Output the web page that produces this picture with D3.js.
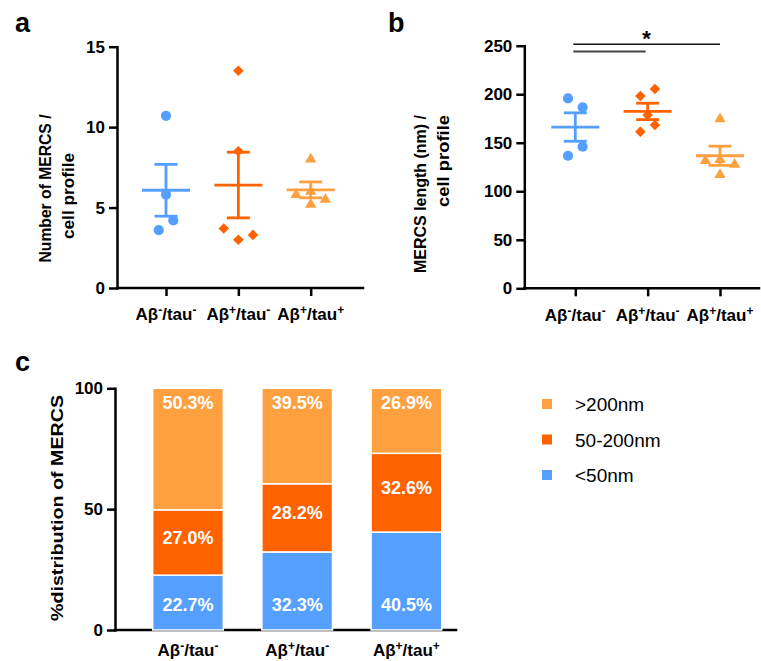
<!DOCTYPE html>
<html>
<head>
<meta charset="utf-8">
<script src="https://cdnjs.cloudflare.com/ajax/libs/d3/7.8.5/d3.min.js"></script>
<style>
body { margin: 0; background: #fff; }
svg { display: block; font-family: "Liberation Sans", Arial, sans-serif; }
</style>
</head>
<body>
<svg id="fig" width="761" height="661"></svg>
<script>
/* groups and values */
var groups = ["Aβ-/tau-", "Aβ+/tau-", "Aβ+/tau+"];

// a: number of MERCS / cell profile
var countNegNeg = [10.7, 5.8, 4.2, 3.6];
var countPosNeg = [13.5, 8.5, 3.7, 3.0, 3.3];
var countPosPos = [8.0, 6.0, 5.8, 5.5, 5.2];
var countTicks = [0, 5, 10, 15];

// b: MERCS length (nm) / cell profile
var lengthNegNeg = [195.7, 186.5, 145.9, 136.6];
var lengthPosNeg = [198.1, 205.3, 178.5, 168.2, 161.3];
var lengthPosPos = [174.5, 131.5, 132.5, 127.5, 117.0];
var lengthTicks = [0, 50, 100, 150, 200, 250];

// c: % distribution of MERCS
var sizeClasses = ["<50nm", "50-200nm", ">200nm"];
var pctBelow50 = [22.7, 32.3, 40.5];
var pct50to200 = [27.0, 28.2, 32.6];
var pctAbove200 = [50.3, 39.5, 26.9];
var pctTicks = [0, 50, 100];

/* styling */
var groupColors = ["#55a0ff", "#ff6200", "#ffa040"];
var groupSymbols = [d3.symbolCircle, d3.symbolSquare, d3.symbolTriangle];
var symbolSizes = [82, 56, 56];
var classColors = ["#55a0ff", "#ff6200", "#ffa040"];
// spread of overlapping dots, in marker half widths
var countSpread = [[0, 0, 1, -1], [0, 0, -2, 0, 2], [0, 0, -2, 2, 0]];
var lengthSpread = [[-1, 1, 1, -1], [-1, 1, 0, 1, -1], [0, -2, 0, 2, 0]];

var svg = d3.select("#fig");
var AXW = 2.5;

function groupLabel(sel, label){
  // superscript the + and - signs
  var parts = label.split(/([+-])/);
  var up = false;
  parts.forEach(function(p, i){
    if (p === "") return;
    var t = sel.append("tspan").text(p);
    if (i % 2 == 1){
      t.attr("font-size", 12).attr("dy", -6);
      up = true;
    } else if (up){
      t.attr("dy", 6);
      up = false;
    }
  });
}

function styleAxis(g){
  g.attr("font-family", null).attr("font-size", 17).attr("font-weight", "bold");
  g.selectAll("line").attr("stroke", "#000").attr("stroke-width", AXW);
  g.selectAll("path").attr("stroke", "#000").attr("stroke-width", AXW)
    .attr("stroke-linecap", "square");
  g.selectAll("text").attr("fill", "#000");
}

function rotTitle(x, y, anchor, txt, len){
  svg.append("text")
    .attr("transform", "translate(" + x + "," + y + ") rotate(-90)")
    .attr("text-anchor", anchor)
    .attr("font-size", 16.5).attr("font-weight", "bold")
    .attr("textLength", len).attr("lengthAdjust", "spacingAndGlyphs")
    .text(txt);
}

function panelLetter(x, y, l){
  svg.append("text").attr("x", x).attr("y", y)
    .attr("font-size", 27).attr("font-weight", "bold").text(l);
}

function dotPanel(values, spread, ticks, box){
  var y = d3.scaleLinear().domain([0, d3.max(ticks)]).range([box.y0, box.y1]);
  var x = d3.scalePoint().domain(groups).range([box.x0, box.x1]);
  var g = svg.append("g");

  g.append("g").attr("transform", "translate(" + box.axisX + ",0)")
    .call(d3.axisLeft(y).tickValues(ticks).tickSize(8).tickPadding(4).tickSizeOuter(0))
    .call(styleAxis);

  var xa = g.append("g").attr("transform", "translate(0," + box.y0 + ")")
    .call(d3.axisBottom(x).tickSize(8).tickFormat(""))
    .call(styleAxis);
  xa.select(".domain").remove();
  g.append("line")
    .attr("x1", box.axisX).attr("x2", box.axisEnd)
    .attr("y1", box.y0).attr("y2", box.y0)
    .attr("stroke", "#000").attr("stroke-width", AXW).attr("stroke-linecap", "square");

  groups.forEach(function(grp, i){
    var t = g.append("text").attr("x", x(grp)).attr("y", box.labelY)
      .attr("text-anchor", "middle").attr("font-size", 17).attr("font-weight", "bold");
    groupLabel(t, grp);
  });

  values.forEach(function(vals, i){
    var cx = x(groups[i]);
    var m = d3.mean(vals);
    var se = d3.deviation(vals) / Math.sqrt(vals.length);
    var col = groupColors[i];
    var lg = g.append("g").attr("stroke", col).attr("stroke-width", 2.8);
    lg.append("line").attr("x1", cx - 24).attr("x2", cx + 24).attr("y1", y(m)).attr("y2", y(m));
    lg.append("line").attr("x1", cx).attr("x2", cx).attr("y1", y(m - se)).attr("y2", y(m + se));
    [m - se, m + se].forEach(function(v){
      lg.append("line").attr("x1", cx - 11.5).attr("x2", cx + 11.5).attr("y1", y(v)).attr("y2", y(v));
    });

    var sym = d3.symbol().type(groupSymbols[i]).size(symbolSizes[i]);
    g.selectAll(null).data(vals).enter().append("path")
      .attr("d", sym)
      .attr("fill", col)
      .attr("transform", function(d, j){
        var rot = i == 1 ? " rotate(45)" : "";
        return "translate(" + (cx + spread[i][j] * 7.3) + "," + y(d) + ")" + rot;
      });
  });
  return {x: x, y: y};
}

/* panel a */
panelLetter(15, 32, "a");
dotPanel([countNegNeg, countPosNeg, countPosPos], countSpread, countTicks,
  {axisX: 117, axisEnd: 363, x0: 166, x1: 310.7, y0: 288, y1: 46.7, labelY: 320});
rotTitle(51, 188.5, "middle", "Number of MERCS /", 148);
rotTitle(74, 196, "middle", "cell profile", 86);

/* panel b */
panelLetter(388, 32, "b");
var pb = dotPanel([lengthNegNeg, lengthPosNeg, lengthPosPos], lengthSpread, lengthTicks,
  {axisX: 524.3, axisEnd: 759, x0: 575.3, x1: 720, y0: 288.3, y1: 45.7, labelY: 321});
rotTitle(426, 115, "end", "MERCS length (nm) /", 158);
rotTitle(449, 115, "end", "cell profile", 92);

// significance bars
svg.append("line").attr("x1", pb.x(groups[0]) - 2).attr("x2", pb.x(groups[2]))
  .attr("y1", 44.3).attr("y2", 44.3).attr("stroke", "#111").attr("stroke-width", 1.6);
svg.append("line").attr("x1", pb.x(groups[0]) - 2).attr("x2", pb.x(groups[1]) - 2)
  .attr("y1", 51.5).attr("y2", 51.5).attr("stroke", "#444").attr("stroke-width", 2);
svg.append("text").attr("x", pb.x(groups[1]) - 1).attr("y", 46)
  .attr("text-anchor", "middle").attr("font-size", 22).attr("font-weight", "bold").text("*");

/* panel c */
panelLetter(15, 371, "c");
var rows = groups.map(function(grp, i){
  return {group: grp, below: pctBelow50[i], mid: pct50to200[i], above: pctAbove200[i]};
});
var keys = ["below", "mid", "above"];
var stacked = d3.stack().keys(keys)(rows);

var yc = d3.scaleLinear().domain([0, 100]).range([630, 388.3]);
var xc = d3.scaleBand().domain(groups).range([134.1, 460.3]).paddingInner(0.353).paddingOuter(0.17);

var gc = svg.append("g");
gc.append("g").attr("transform", "translate(115,0)")
  .call(d3.axisLeft(yc).tickValues(pctTicks).tickSize(8).tickPadding(4).tickSizeOuter(0))
  .call(styleAxis);
gc.append("line").attr("x1", 115).attr("x2", 456).attr("y1", 630).attr("y2", 630)
  .attr("stroke", "#000").attr("stroke-width", AXW).attr("stroke-linecap", "square");

stacked.forEach(function(s, k){
  var sg = gc.append("g");
  sg.selectAll("rect").data(s).enter().append("rect")
    .attr("x", function(d){ return xc(d.data.group); })
    .attr("width", xc.bandwidth())
    .attr("y", function(d){ return yc(d[1]); })
    .attr("height", function(d){ return yc(d[0]) - yc(d[1]); })
    .attr("fill", classColors[k])
    .attr("stroke", "#fff").attr("stroke-width", 1.5);
  sg.selectAll("text").data(s).enter().append("text")
    .attr("x", function(d){ return xc(d.data.group) + xc.bandwidth() / 2; })
    .attr("y", function(d){
      if (k == 0) return yc(d[0]) - 19;
      if (k == 1) return (yc(d[0]) + yc(d[1])) / 2 + 1;
      return yc(d[1]) + 21;
    })
    .attr("text-anchor", "middle").attr("fill", "#fff")
    .attr("font-size", 18).attr("font-weight", "bold")
    .text(function(d){ return d.data[s.key].toFixed(1) + "%"; });
});

groups.forEach(function(grp){
  var t = gc.append("text").attr("x", xc(grp) + xc.bandwidth() / 2).attr("y", 656)
    .attr("text-anchor", "middle").attr("font-size", 17).attr("font-weight", "bold");
  groupLabel(t, grp);
});

rotTitle(63, 508, "middle", "%distribution of MERCS", 226);

// legend, top to bottom >200nm, 50-200nm, <50nm
var legendOrder = [2, 1, 0];
var lg = svg.append("g");
legendOrder.forEach(function(k, i){
  var ly = 404 + i * 35.5;
  lg.append("rect").attr("x", 542).attr("y", ly - 5).attr("width", 10).attr("height", 10)
    .attr("fill", classColors[k]);
  lg.append("text").attr("x", 575).attr("y", ly + 7)
    .attr("font-size", 19).text(sizeClasses[k]);
});
</script>
</body>
</html>
